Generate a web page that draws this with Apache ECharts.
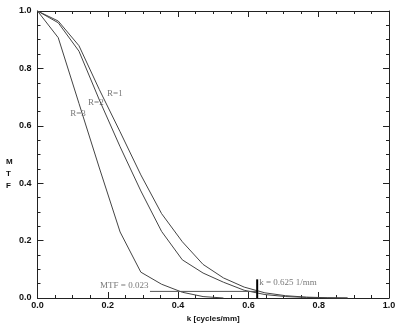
<!DOCTYPE html>
<html><head><meta charset="utf-8">
<script src="https://cdn.jsdelivr.net/npm/echarts@6/dist/echarts.min.js"></script>
<style>html,body{margin:0;padding:0;background:#fff}#c{width:400px;height:323px}</style>
</head><body><div id="c"></div>
<script>
// spatial frequency k [cycles/mm] sample points
const kValues = [0, 0.059, 0.118, 0.176, 0.235, 0.294, 0.353, 0.412, 0.471, 0.529, 0.588, 0.647, 0.706, 0.765, 0.824, 0.882];
const mtfR1 = [1.0, 0.965, 0.879, 0.726, 0.579, 0.429, 0.294, 0.196, 0.117, 0.070, 0.038, 0.018, 0.008, 0.003, 0.001, 0.0];
const mtfR2 = [1.0, 0.959, 0.860, 0.690, 0.527, 0.373, 0.232, 0.133, 0.087, 0.055, 0.027, 0.012, 0.005, 0.002, 0.0, 0.0];
const mtfR3 = [1.0, 0.907, 0.678, 0.453, 0.230, 0.090, 0.048, 0.020, 0.005, 0.0];
const curveLabels = ['R=1', 'R=2', 'R=3'];
const curveLabelPos = [[0.198, 0.711], [0.144, 0.679], [0.093, 0.641]];
const cutoffK = 0.625;
const cutoffMTF = 0.023;
const mtfLineStartK = 0.32;
const markerTop = 0.065;
const noteTexts = ['MTF = 0.023', 'k = 0.625 1/mm'];
const notePos = [[0.178, 0.042], [0.631, 0.052]];

const pairs = (ys) => ys.map((v, i) => [kValues[i], v]);
const lineColor = '#444';
const axisColor = '#222';
const tickFont = {fontFamily: 'Liberation Sans', fontWeight: 'bold', fontSize: 9, color: '#111'};

function axisCommon(showLabels, pos, margin) {
  return {
    type: 'value', min: 0, max: 1, interval: 0.2, position: pos,
    axisLine: {show: true, onZero: false, lineStyle: {color: axisColor, width: 1}},
    axisTick: {show: true, inside: true, length: 6, lineStyle: {color: axisColor}},
    minorTick: {show: true, splitNumber: 4, length: 3, lineStyle: {color: axisColor}},
    splitLine: {show: false},
    axisLabel: Object.assign({show: showLabels, margin: margin,
      formatter: (v) => v.toFixed(1)}, tickFont)
  };
}

const chart = echarts.init(document.getElementById('c'), null, {renderer: 'canvas'});
const labelSeries = (names, pos, font) => ({
  type: 'scatter', symbolSize: 0, silent: true,
  data: pos.map((p, i) => ({value: p, name: names[i]})),
  label: Object.assign({show: true, position: 'right', distance: 0,
    formatter: (p) => p.name, color: '#555'}, font)
});
chart.setOption({
  animation: false,
  grid: {left: 37.5, right: 11, top: 11, bottom: 25, containLabel: false, outerBoundsMode: 'none'},
  graphic: [{
    type: 'text', left: 6, top: 156, silent: true,
    style: {text: 'M\nT\nF', fontFamily: 'Liberation Sans', fontWeight: 'bold', fontSize: 8,
      fill: '#111', lineHeight: 12, align: 'center'}
  }],
  xAxis: [
    Object.assign(axisCommon(true, 'bottom', 3), {
      name: 'k [cycles/mm]', nameLocation: 'middle', nameGap: 9,
      nameTextStyle: {fontFamily: 'Liberation Sans', fontWeight: 'bold', fontSize: 8, color: '#111'}
    }),
    axisCommon(false, 'top', 3)
  ],
  yAxis: [
    axisCommon(true, 'left', 6),
    axisCommon(false, 'right', 6)
  ],
  series: [
    {type: 'line', data: pairs(mtfR1), symbol: 'none', lineStyle: {color: lineColor, width: 1}},
    {type: 'line', data: pairs(mtfR2), symbol: 'none', lineStyle: {color: lineColor, width: 1}},
    {type: 'line', data: pairs(mtfR3), symbol: 'none', lineStyle: {color: lineColor, width: 1}},
    {type: 'line', data: [[mtfLineStartK, cutoffMTF], [cutoffK, cutoffMTF]], symbol: 'none', lineStyle: {color: '#555', width: 1}},
    {type: 'line', data: [[cutoffK, 0], [cutoffK, markerTop]], symbol: 'none', lineStyle: {color: '#000', width: 2}},
    labelSeries(curveLabels, curveLabelPos, {fontFamily: 'Liberation Serif', fontSize: 9}),
    labelSeries(noteTexts, notePos, {fontFamily: 'Liberation Serif', fontSize: 9})
  ]
});
</script></body></html>
